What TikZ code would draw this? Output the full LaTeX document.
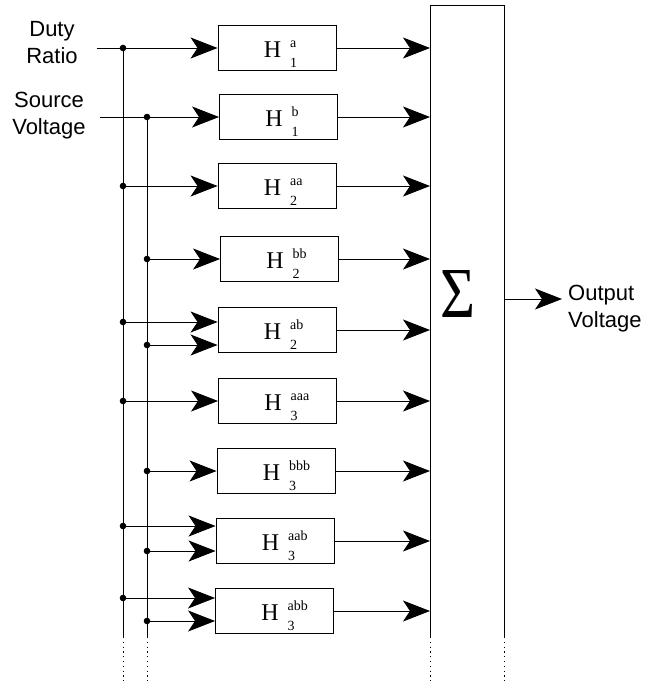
\documentclass[tikz,border=0pt]{standalone}
\usepackage{fontspec}
\setmainfont{Liberation Serif}
\newfontfamily\lsans{Liberation Sans}
\usetikzlibrary{arrows.meta}
\newcommand{\tfn}[2]{\fontsize{24}{24}\selectfont H\hspace{9pt}\rlap{\raisebox{10pt}{\fontsize{14}{14}\selectfont #1}}\rlap{\raisebox{-10pt}{\fontsize{14}{14}\selectfont #2}}}
\tikzset{
  blk/.style={draw,line width=0.9pt,minimum width=118pt,minimum height=45pt,inner sep=0pt,text height=22pt,text depth=4pt},
  wire/.style={line width=0.9pt},
  sig/.style={line width=0.9pt,-{Stealth[length=27pt,width=21pt,inset=7pt]}},
  dots/.style={line width=1pt,dash pattern=on 1.2pt off 3.6pt},
  lbl/.style={font=\lsans\fontsize{22}{27}\selectfont,inner sep=0pt}
}
\begin{document}
\begin{tikzpicture}[x=1pt,y=-1pt]
\useasboundingbox (0,0) rectangle (647,689);

\node[blk] (ha1) at (277,48) {\tfn{a}{1}};
\node[blk] (hb1) at (278.5,117) {\tfn{b}{1}};
\node[blk] (haa2) at (277,186) {\tfn{aa}{2}};
\node[blk] (hbb2) at (279.5,259) {\tfn{bb}{2}};
\node[blk] (hab2) at (277,330) {\tfn{ab}{2}};
\node[blk] (haaa3) at (277.5,401) {\tfn{aaa}{3}};
\node[blk] (hbbb3) at (276,471) {\tfn{bbb}{3}};
\node[blk] (haab3) at (275,541) {\tfn{aab}{3}};
\node[blk] (habb3) at (274.5,611) {\tfn{abb}{3}};

\node[lbl,align=center] (duty) at (52,43) {Duty\\Ratio};
\node[lbl,align=center] (src) at (49,116) {Source\\Voltage};
\node[lbl,align=left,anchor=west] (vout) at (568,309) {Output\\Voltage};

\coordinate (dutyin) at (97,48);
\coordinate (srcin) at (100,117);
\coordinate (busa) at (123,48);
\coordinate (busb) at (147,117);
\coordinate (sumtl) at (430,5);
\coordinate (sumtr) at (504,5);
\coordinate (sumbl) at (430,637);
\coordinate (sumbr) at (504,637);
\coordinate (outtip) at (562,299);

\node (sum) at (458,294) {\resizebox{35pt}{47pt}{Σ}};
\draw[wire] (sumbl) -- (sumtl) -- (sumtr) -- (sumbr);
\draw[dots] (sumbl) -- ++(0,48);
\draw[dots] (sumbr) -- ++(0,48);
\draw[sig] (sumtr |- outtip) -- (outtip);

\draw[sig] (dutyin) -- (ha1.west);
\draw[sig] (srcin) -- (hb1.west);
\draw[wire] (busa) -- (busa |- sumbl);
\draw[wire] (busb) -- (busb |- sumbl);
\draw[dots] (busa |- sumbl) -- ++(0,48);
\draw[dots] (busb |- sumbl) -- ++(0,48);
\fill (busa) circle (3.3pt);
\fill (busb) circle (3.3pt);

\foreach \b in {haa2,haaa3}{
  \draw[sig] (busa |- \b.west) -- (\b.west);
  \fill (busa |- \b.west) circle (3.3pt);
}
\foreach \b in {hbb2,hbbb3}{
  \draw[sig] (busb |- \b.west) -- (\b.west);
  \fill (busb |- \b.west) circle (3.3pt);
}
\foreach \b/\up/\dn in {hab2/8/-15,haab3/15/-10,habb3/13/-10}{
  \coordinate (ia) at ([yshift=\up pt]\b.west);
  \coordinate (ib) at ([yshift=\dn pt]\b.west);
  \draw[sig] (busa |- ia) -- (ia);
  \draw[sig] (busb |- ib) -- (ib);
  \fill (busa |- ia) circle (3.3pt);
  \fill (busb |- ib) circle (3.3pt);
}

\foreach \b in {ha1,hb1,haa2,hbb2,hab2,haaa3,hbbb3,haab3,habb3}
  \draw[sig] (\b.east) -- (\b.east -| sumtl);
\end{tikzpicture}
\end{document}
